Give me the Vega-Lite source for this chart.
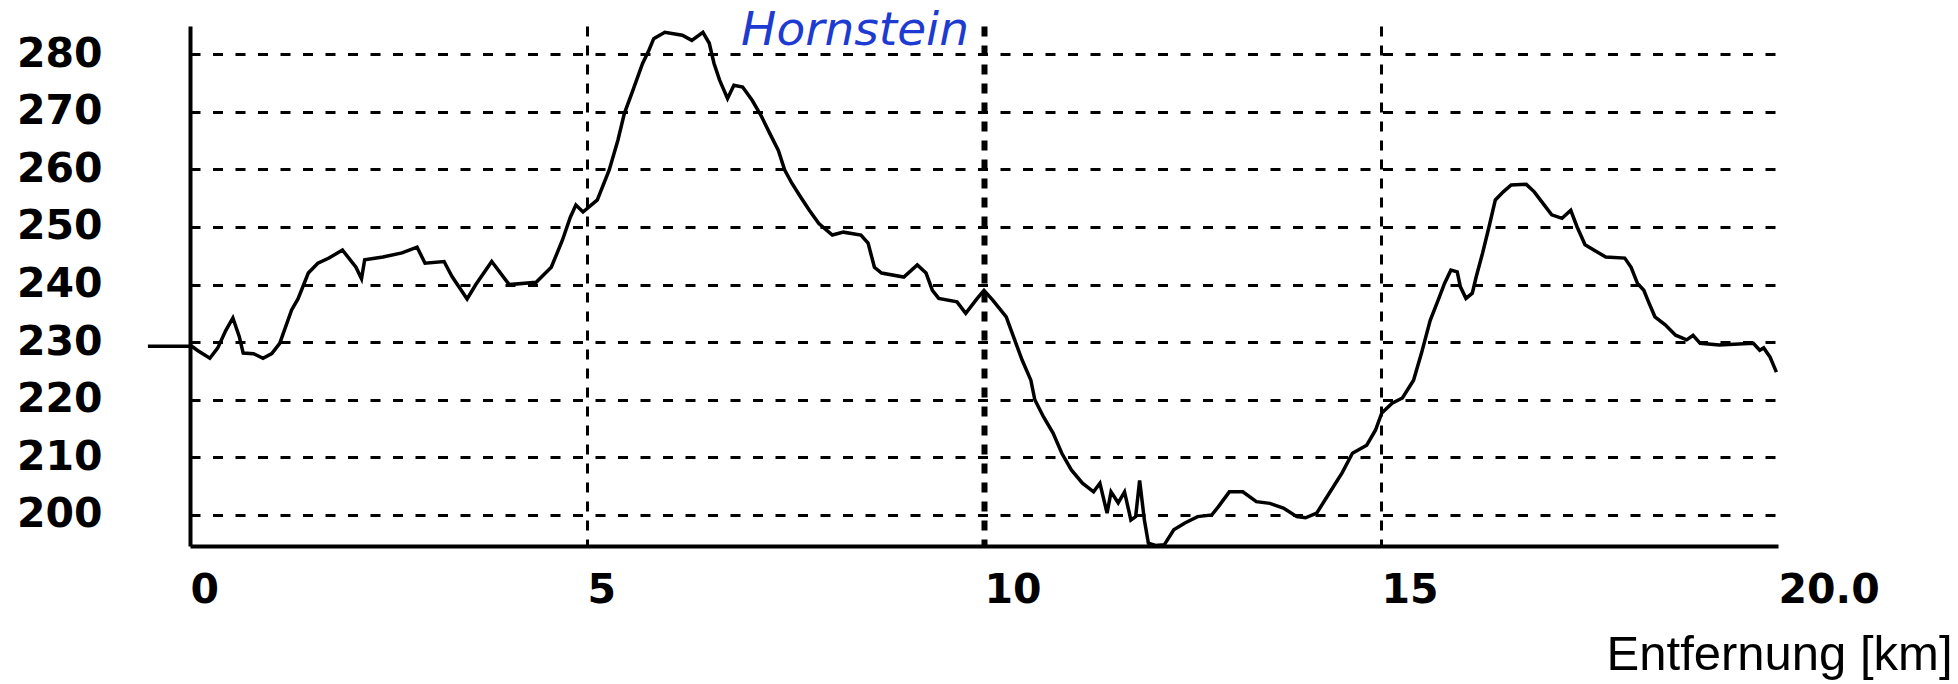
{
  "$schema": "https://vega.github.io/schema/vega-lite/v6.json",
  "autosize": {"type": "none"},
  "padding": {"left": 190, "top": 26, "right": 180, "bottom": 138},
  "width": 1588,
  "height": 520,
  "background": "white",
  "config": {"view": {"stroke": null}},
  "datasets": {
    "profile": [
      {"x": 0, "y": 229.5}, {"x": 0.1, "y": 228.5}, {"x": 0.25, "y": 227.2}, {"x": 0.35, "y": 229}, {"x": 0.45, "y": 232},
      {"x": 0.54, "y": 234.2}, {"x": 0.62, "y": 231}, {"x": 0.67, "y": 228.1}, {"x": 0.8, "y": 228}, {"x": 0.92, "y": 227.2},
      {"x": 1.03, "y": 228}, {"x": 1.13, "y": 229.8}, {"x": 1.28, "y": 235.6}, {"x": 1.36, "y": 237.5}, {"x": 1.49, "y": 242},
      {"x": 1.61, "y": 243.7}, {"x": 1.75, "y": 244.6}, {"x": 1.92, "y": 246}, {"x": 2.09, "y": 243}, {"x": 2.16, "y": 241},
      {"x": 2.2, "y": 244.3}, {"x": 2.43, "y": 244.8}, {"x": 2.67, "y": 245.5}, {"x": 2.86, "y": 246.5}, {"x": 2.96, "y": 243.7},
      {"x": 3.2, "y": 244}, {"x": 3.3, "y": 241.4}, {"x": 3.49, "y": 237.5}, {"x": 3.6, "y": 240}, {"x": 3.8, "y": 244},
      {"x": 4.02, "y": 240}, {"x": 4.36, "y": 240.4}, {"x": 4.55, "y": 243}, {"x": 4.69, "y": 247.7}, {"x": 4.79, "y": 251.7},
      {"x": 4.86, "y": 253.8}, {"x": 4.95, "y": 252.6}, {"x": 5.13, "y": 254.7}, {"x": 5.28, "y": 259.9}, {"x": 5.39, "y": 265.1},
      {"x": 5.47, "y": 269.7}, {"x": 5.58, "y": 273.8}, {"x": 5.7, "y": 278.4}, {"x": 5.78, "y": 280.7}, {"x": 5.84, "y": 282.7},
      {"x": 5.98, "y": 283.8}, {"x": 6.2, "y": 283.3}, {"x": 6.32, "y": 282.4}, {"x": 6.46, "y": 283.8}, {"x": 6.54, "y": 281.9},
      {"x": 6.6, "y": 278.4}, {"x": 6.67, "y": 275.5}, {"x": 6.77, "y": 272.3}, {"x": 6.85, "y": 274.6}, {"x": 6.96, "y": 274.3},
      {"x": 7.08, "y": 272}, {"x": 7.19, "y": 269.4}, {"x": 7.3, "y": 266.3}, {"x": 7.41, "y": 263.3}, {"x": 7.49, "y": 259.9},
      {"x": 7.58, "y": 257.6}, {"x": 7.69, "y": 255.2}, {"x": 7.8, "y": 252.9}, {"x": 7.92, "y": 250.6}, {"x": 8.09, "y": 248.6},
      {"x": 8.23, "y": 249.1}, {"x": 8.45, "y": 248.6}, {"x": 8.54, "y": 247.2}, {"x": 8.62, "y": 243}, {"x": 8.71, "y": 242},
      {"x": 8.99, "y": 241.3}, {"x": 9.16, "y": 243.4}, {"x": 9.27, "y": 242}, {"x": 9.35, "y": 239}, {"x": 9.43, "y": 237.6},
      {"x": 9.66, "y": 237}, {"x": 9.77, "y": 235}, {"x": 9.91, "y": 237.5}, {"x": 10.0, "y": 239}, {"x": 10.11, "y": 237.3},
      {"x": 10.28, "y": 234.4}, {"x": 10.37, "y": 231}, {"x": 10.48, "y": 226.9}, {"x": 10.59, "y": 223.4}, {"x": 10.64, "y": 220},
      {"x": 10.75, "y": 217}, {"x": 10.87, "y": 214.2}, {"x": 10.98, "y": 210.7}, {"x": 11.1, "y": 207.8}, {"x": 11.24, "y": 205.5},
      {"x": 11.38, "y": 204}, {"x": 11.46, "y": 205.5}, {"x": 11.55, "y": 200.3}, {"x": 11.6, "y": 204}, {"x": 11.69, "y": 202.1},
      {"x": 11.77, "y": 204}, {"x": 11.85, "y": 199.1}, {"x": 11.91, "y": 199.7}, {"x": 11.96, "y": 206}, {"x": 12.02, "y": 199.1},
      {"x": 12.07, "y": 195.1}, {"x": 12.16, "y": 194.7}, {"x": 12.27, "y": 194.8}, {"x": 12.39, "y": 197.4}, {"x": 12.53, "y": 198.6},
      {"x": 12.69, "y": 199.7}, {"x": 12.87, "y": 200}, {"x": 12.95, "y": 201.4}, {"x": 13.09, "y": 204}, {"x": 13.26, "y": 204},
      {"x": 13.43, "y": 202.3}, {"x": 13.6, "y": 202}, {"x": 13.77, "y": 201.2}, {"x": 13.94, "y": 199.7}, {"x": 14.05, "y": 199.5},
      {"x": 14.19, "y": 200.3}, {"x": 14.35, "y": 203.8}, {"x": 14.51, "y": 207.3}, {"x": 14.64, "y": 210.7}, {"x": 14.82, "y": 212.1},
      {"x": 14.93, "y": 214.7}, {"x": 15.01, "y": 217.7}, {"x": 15.14, "y": 219.4}, {"x": 15.27, "y": 220.3}, {"x": 15.41, "y": 223.4},
      {"x": 15.51, "y": 228.1}, {"x": 15.62, "y": 233.8}, {"x": 15.72, "y": 237.3}, {"x": 15.8, "y": 240.2}, {"x": 15.88, "y": 242.5},
      {"x": 15.96, "y": 242.2}, {"x": 16.0, "y": 239.6}, {"x": 16.07, "y": 237.6}, {"x": 16.15, "y": 238.5}, {"x": 16.2, "y": 241.4},
      {"x": 16.28, "y": 245.5}, {"x": 16.36, "y": 250}, {"x": 16.44, "y": 254.7}, {"x": 16.54, "y": 256.1}, {"x": 16.64, "y": 257.3},
      {"x": 16.83, "y": 257.4}, {"x": 16.93, "y": 256.1}, {"x": 17.04, "y": 254.1}, {"x": 17.15, "y": 252.1}, {"x": 17.28, "y": 251.5},
      {"x": 17.39, "y": 252.9}, {"x": 17.47, "y": 250}, {"x": 17.57, "y": 246.9}, {"x": 17.68, "y": 246}, {"x": 17.83, "y": 244.8},
      {"x": 18.07, "y": 244.6}, {"x": 18.15, "y": 243}, {"x": 18.23, "y": 240.2}, {"x": 18.31, "y": 239}, {"x": 18.36, "y": 237.3},
      {"x": 18.45, "y": 234.4}, {"x": 18.58, "y": 233}, {"x": 18.71, "y": 231.2}, {"x": 18.85, "y": 230.4}, {"x": 18.93, "y": 231.2},
      {"x": 19.02, "y": 229.8}, {"x": 19.26, "y": 229.5}, {"x": 19.69, "y": 229.8}, {"x": 19.77, "y": 228.6}, {"x": 19.82, "y": 229},
      {"x": 19.9, "y": 227.4}, {"x": 19.98, "y": 224.8}
    ],
    "start": [{"x": -0.53, "x2": 0, "y": 229.3}],
    "note": [{"x": 8.375, "y": 281.6, "label": "Hornstein"}]
  },
  "encoding": {
    "x": {
      "field": "x", "type": "quantitative",
      "scale": {"domain": [0, 20], "nice": false, "zero": false},
      "axis": {
        "title": "Entfernung [km]",
        "titleFont": "Liberation Sans",
        "titleFontSize": 49, "titleFontWeight": "normal", "titleColor": "black",
        "titleAlign": "right", "titleAnchor": "end", "titleBaseline": "alphabetic",
        "titleX": 1762, "titleY": 123,
        "values": [0, 5, 10, 15, 20],
        "labelExpr": "datum.value == 20 ? '20.0' : datum.label",
        "labelFont": "DejaVu Sans", "labelFontWeight": "bold", "labelFontSize": 41, "labelColor": "black",
        "labelAlign": "left", "labelBaseline": "top", "labelPadding": 24,
        "labelFlush": false, "labelOverlap": false, "labelBound": false,
        "ticks": false, "tickSize": 0,
        "domainColor": "black", "domainWidth": 4,
        "grid": true, "gridColor": "black", "gridDash": [10, 9],
        "gridWidth": {"condition": {"test": "datum.value == 10", "value": 6}, "value": 3},
        "gridOpacity": {"condition": {"test": "datum.value == 0 || datum.value == 20", "value": 0}, "value": 1}
      }
    },
    "y": {
      "field": "y", "type": "quantitative",
      "scale": {"domain": [194.6, 284.9], "nice": false, "zero": false},
      "axis": {
        "title": null,
        "values": [200, 210, 220, 230, 240, 250, 260, 270, 280],
        "labelFont": "DejaVu Sans", "labelFontWeight": "bold", "labelFontSize": 41, "labelColor": "black",
        "labelAlign": "right", "labelBaseline": "middle", "labelPadding": 88, "labelDy": -4,
        "labelOverlap": false, "labelBound": false,
        "ticks": false, "tickSize": 0,
        "domainColor": "black", "domainWidth": 4,
        "grid": true, "gridColor": "black", "gridDash": [10, 12.5], "gridWidth": 3
      }
    }
  },
  "layer": [
    {
      "data": {"name": "profile"},
      "mark": {"type": "line", "color": "black", "strokeWidth": 3.5}
    },
    {
      "data": {"name": "start"},
      "mark": {"type": "rule", "color": "black", "strokeWidth": 3.5},
      "encoding": {"x2": {"field": "x2"}}
    },
    {
      "data": {"name": "note"},
      "mark": {"type": "text", "font": "DejaVu Sans", "fontStyle": "italic", "fontSize": 47, "color": "#1d3bd1", "align": "center", "baseline": "alphabetic"},
      "encoding": {"text": {"field": "label"}}
    }
  ]
}
